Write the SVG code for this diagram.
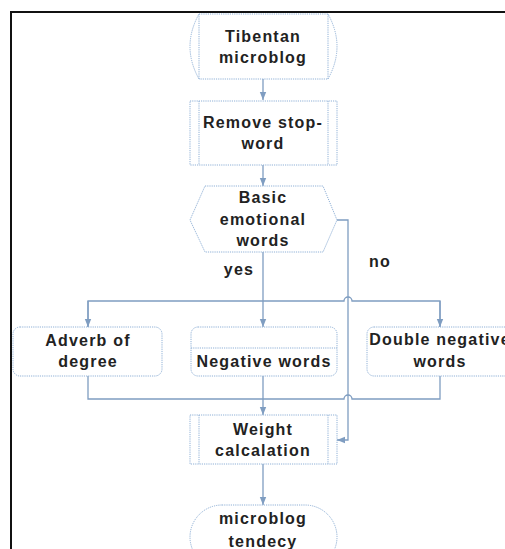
<svg xmlns="http://www.w3.org/2000/svg" width="505" height="549" viewBox="0 0 505 549">
<style>
.node{fill:#fff;stroke:#8fb0d6;stroke-width:1;stroke-dasharray:1.2 1}
.in{fill:none;stroke:#8fb0d6;stroke-width:1;stroke-dasharray:1.2 1}
.c{fill:none;stroke:#7f9dc1;stroke-width:1.3}
text{font-family:"Liberation Sans",Arial,sans-serif;font-weight:bold;font-size:16px;fill:#222;letter-spacing:1.2px;text-anchor:middle}
</style>
<defs>
<marker id="a" markerWidth="8" markerHeight="8" viewBox="0 0 10 10" refX="10" refY="5" orient="auto" markerUnits="userSpaceOnUse">
<path d="M0,1 L10,5 L0,9 Z" fill="#7f9dc1"/>
</marker>
</defs>
<rect x="0" y="0" width="505" height="549" fill="#fff"/>
<path d="M11,549 V12 H505" fill="none" stroke="#111" stroke-width="2"/>
<g id="connectors">
<path class="c" d="M263,79 V100" marker-end="url(#a)"/>
<path class="c" d="M263,165 V186" marker-end="url(#a)"/>
<path class="c" d="M263,252 V327" marker-end="url(#a)"/>
<path class="c" d="M88,327 V301 H344 A4,4 0 0 1 352,301 H440 V327" />
<path class="c" d="M88,301 V327" marker-end="url(#a)"/>
<path class="c" d="M440,301 V327" marker-end="url(#a)"/>
<path class="c" d="M263,376 V415" marker-end="url(#a)"/>
<path class="c" d="M88,376 V399 H344 A4,4 0 0 1 352,399 H440 V376"/>
<path class="c" d="M337,220 H348 V440 H337" marker-end="url(#a)"/>
<path class="c" d="M263,464 V505" marker-end="url(#a)"/>
</g>
<g id="n1">
<path class="node" d="M199,14 H328 Q346,46.5 328,79 H199 Q181,46.5 199,14 Z"/>
<path class="in" d="M199,14 V79 M328,14 V79"/>
<text x="263" y="42">Tibentan</text>
<text x="263" y="63">microblog</text>
</g>
<g id="n2">
<rect class="node" x="190" y="101" width="147" height="64"/>
<path class="in" d="M199,101 V165 M328,101 V165"/>
<text x="263" y="128">Remove stop-</text>
<text x="263" y="149">word</text>
</g>
<g id="n3">
<path class="node" d="M205,186 H323 L337,220 L323,252 H205 L190,220 Z"/>
<text x="263" y="203">Basic</text>
<text x="263" y="225">emotional</text>
<text x="263" y="246">words</text>
</g>
<text x="239" y="275">yes</text>
<text x="380" y="267">no</text>
<g id="n4">
<rect class="node" x="13" y="327" width="149" height="49" rx="7"/>
<text x="88" y="346">Adverb of</text>
<text x="88" y="367">degree</text>
</g>
<g id="n5">
<rect class="node" x="191" y="327" width="146" height="49" rx="7"/>
<path class="in" d="M191,348 H337"/>
<text x="264" y="367">Negative words</text>
</g>
<g id="n6">
<rect class="node" x="367" y="327" width="146" height="49" rx="7"/>
<text x="440" y="345">Double negative</text>
<text x="440" y="367">words</text>
</g>
<g id="n7">
<rect class="node" x="190" y="415" width="147" height="49"/>
<path class="in" d="M199,415 V464 M328,415 V464"/>
<text x="263" y="435">Weight</text>
<text x="263" y="456">calcalation</text>
</g>
<g id="n8">
<rect class="node" x="190" y="505" width="147" height="64" rx="32"/>
<text x="263" y="524">microblog</text>
<text x="263" y="547">tendecy</text>
</g>
</svg>
